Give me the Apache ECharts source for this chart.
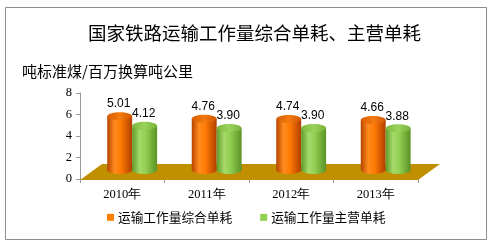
<!DOCTYPE html>
<html><head><meta charset="utf-8">
<script src="https://cdn.jsdelivr.net/npm/echarts@6/dist/echarts.min.js"></script>
<style>html,body{margin:0;padding:0;background:#fff}#c{width:501px;height:245px}</style>
</head><body><div id="c"></div>
<script>
const categories = ['2010年', '2011年', '2012年', '2013年'];
const seriesNames = ['运输工作量综合单耗', '运输工作量主营单耗'];
const comprehensive = [5.01, 4.76, 4.74, 4.66];
const mainBusiness = [4.12, 3.90, 3.90, 3.88];
const yTicks = [0, 2, 4, 6, 8];

const chart = echarts.init(document.getElementById('c'), null, {renderer: 'canvas'});

const DEPTH_X = 22, DEPTH_Y = 16;

function grad(stops) {
  return new echarts.graphic.LinearGradient(0, 0, 1, 0, stops.map((c, i) => ({offset: c[0], color: c[1]})));
}

const styles = [
  {
    body: [[0, '#B84400'], [0.3, '#FF8C1E'], [0.55, '#FF7A05'], [1, '#B03E00']],
    top: [[0, '#D85C00'], [0.5, '#F47A10'], [1, '#D05600']],
    offset: -0.03
  },
  {
    body: [[0, '#5E9A28'], [0.3, '#A6DA6A'], [0.55, '#92CE52'], [1, '#5A9224']],
    top: [[0, '#7DB83E'], [0.5, '#9AD35C'], [1, '#78B238']],
    offset: 0.265
  }
];

function makeCylinder(si) {
  return function (params, api) {
    const ci = api.value(0), v = api.value(1);
    const topP = api.coord([ci, v]);
    const baseP = api.coord([ci, 0]);
    const cw = api.size([1, 0])[0];
    const w = 0.295 * cw;
    const rx = w / 2, ry = 4;
    const cx = topP[0] + styles[si].offset * cw;
    const dy = DEPTH_Y / 2 + 1;
    const topY = topP[1] - dy;
    const baseY = baseP[1] - dy;
    const bodyFill = grad(styles[si].body);
    const topFill = grad(styles[si].top);
    return {
      type: 'group',
      children: [
        {type: 'ellipse', shape: {cx: cx, cy: baseY, rx: rx, ry: ry}, style: {fill: bodyFill}},
        {type: 'rect', shape: {x: cx - rx, y: topY, width: w, height: baseY - topY}, style: {fill: bodyFill}},
        {type: 'ellipse', shape: {cx: cx, cy: topY, rx: rx, ry: ry}, style: {fill: topFill}},
        {type: 'text', style: {
          text: api.value(1).toFixed(2), x: cx - 1, y: topY - ry - 2,
          align: 'center', verticalAlign: 'bottom',
          font: '12px "Liberation Sans", sans-serif', fill: '#000'
        }}
      ]
    };
  };
}

function floorItem(params, api) {
  const cs = params.coordSys;
  const x = cs.x, yb = cs.y + cs.height + 1, w = cs.width;
  return {
    type: 'polygon',
    shape: {points: [[x, yb], [x + DEPTH_X, yb - DEPTH_Y], [x + w + DEPTH_X, yb - DEPTH_Y], [x + w, yb]]},
    style: {fill: '#C09000'}
  };
}

const option = {
  animation: false,
  backgroundColor: '#fff',
  title: [
    {text: '国家铁路运输工作量综合单耗、主营单耗', left: 88, top: 23, padding: 0,
     textStyle: {fontFamily: '"Noto Sans CJK SC", sans-serif', fontWeight: 'normal', fontSize: 18.5, lineHeight: 20, color: '#000'}},
    {text: '吨标准煤/百万换算吨公里', left: 22, top: 63, padding: 0,
     textStyle: {fontFamily: '"Noto Sans CJK SC", sans-serif', fontWeight: 'normal', fontSize: 15, lineHeight: 16, color: '#000'}}
  ],
  graphic: [
    {type: 'rect', shape: {x: 5.5, y: 7.5, width: 481, height: 232}, style: {fill: null, stroke: '#8c8c8c', lineWidth: 1}, z: 0, silent: true}
  ],
  legend: {
    data: seriesNames,
    left: 107, top: 211, padding: 0,
    icon: 'rect', itemWidth: 7, itemHeight: 7, itemGap: 28,
    textStyle: {fontFamily: '"Noto Sans CJK SC", sans-serif', fontSize: 12.7, color: '#000', padding: [0, 0, 0, -1]}
  },
  grid: {left: 80, right: 83, top: 93, bottom: 66},
  xAxis: {
    type: 'category', data: categories,
    axisLine: {lineStyle: {color: '#8a7a50', width: 1}},
    axisTick: {show: true, length: 4, lineStyle: {color: '#9a9a9a'}},
    axisLabel: {margin: 9, fontFamily: '"Liberation Serif", serif', fontSize: 12.5, color: '#000'}
  },
  yAxis: {
    type: 'value', min: 0, max: 8, interval: 2,
    axisLine: {show: true, lineStyle: {color: '#9a9a9a'}},
    axisTick: {show: true, length: 4, lineStyle: {color: '#9a9a9a'}},
    splitLine: {show: false},
    axisLabel: {margin: 8, fontFamily: '"Liberation Serif", serif', fontSize: 12.5, color: '#000',
      formatter: v => yTicks.includes(v) ? String(v) : ''}
  },
  series: [
    {type: 'custom', name: 'floor', renderItem: floorItem, data: [[0, 0]], z: 1, silent: true, encode: {x: 0, y: 1}},
    {type: 'custom', name: seriesNames[0], renderItem: makeCylinder(0), itemStyle: {color: '#FF7F00'},
     data: comprehensive.map((v, i) => [i, v]), encode: {x: 0, y: 1}, z: 2},
    {type: 'custom', name: seriesNames[1], renderItem: makeCylinder(1), itemStyle: {color: '#92D050'},
     data: mainBusiness.map((v, i) => [i, v]), encode: {x: 0, y: 1}, z: 3}
  ]
};
chart.setOption(option);
</script></body></html>
